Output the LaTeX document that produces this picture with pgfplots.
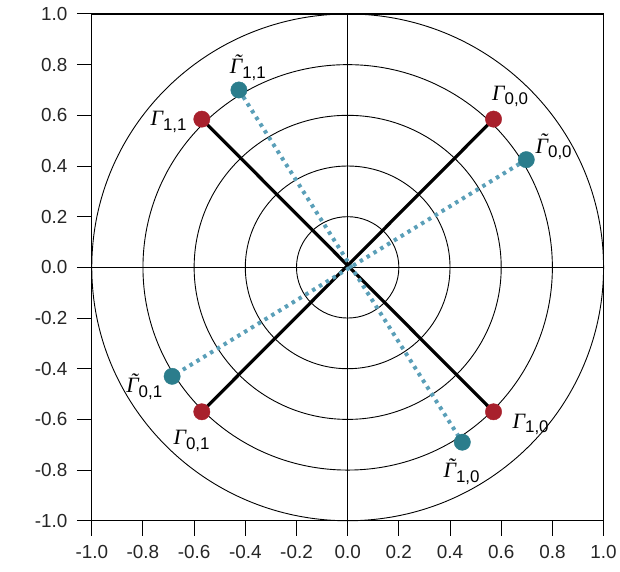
\documentclass[border=0pt]{standalone}
\usepackage{pgfplots}
\pgfplotsset{compat=1.18}
\usepackage{fontspec}
\setmainfont{Liberation Sans}
\newfontfamily\serif{Liberation Serif}
\definecolor{redpt}{HTML}{A8202C}
\definecolor{tealpt}{HTML}{2B7D8C}
\definecolor{dotline}{HTML}{5A9FB8}
\newcommand{\G}[1]{{\serif\itshape Γ}\raisebox{-0.4ex}{\fontsize{17}{17}\selectfont #1}}
\newcommand{\Gt}[1]{{\serif\itshape\ooalign{Γ\cr\hidewidth\kern0.14em\raisebox{0.2em}{˜}\hidewidth\cr}}\raisebox{-0.4ex}{\fontsize{17}{17}\selectfont #1}}
\begin{document}
\begin{tikzpicture}
\begin{axis}[
  scale only axis, width=513bp, height=508bp,
  xmin=-1, xmax=1, ymin=-1, ymax=1,
  clip=false,
  axis line style={black, line width=1.1bp},
  xtick pos=bottom, ytick pos=left,
  tick align=outside,
  major tick length=20bp,
  tick style={black, line width=1bp, dash pattern=on 0bp off 5bp on 15bp off 0bp},
  xticklabel style={yshift=-1bp},
  yticklabel style={xshift=-1bp},
  xtick={-1,-0.8,-0.6,-0.4,-0.2,0,0.2,0.4,0.6,0.8,1},
  ytick={-1,-0.8,-0.6,-0.4,-0.2,0,0.2,0.4,0.6,0.8,1},
  tick label style={font=\fontsize{19}{19}\selectfont, text=black!85},
  /pgf/number format/.cd, fixed, fixed zerofill, precision=1, assume math mode=true,
]
% circles, cross
\draw[black, line width=0.9bp] (axis cs:0,0) circle [radius=0.2];
\draw[black, line width=0.9bp] (axis cs:0,0) circle [radius=0.4];
\draw[black, line width=0.9bp] (axis cs:0,0) circle [radius=0.6];
\draw[black, line width=0.9bp] (axis cs:0,0) circle [radius=0.8];
\draw[black, line width=0.9bp] (axis cs:0,0) circle [radius=1.0];
\draw[black, line width=0.8bp] (axis cs:-1,0) -- (axis cs:1,0);
\draw[black, line width=0.8bp] (axis cs:0,-1) -- (axis cs:0,1);
% lines
\addplot[black, line width=3.2bp] coordinates {(0.57,0.585) (-0.57,-0.57)};
\addplot[black, line width=3.2bp] coordinates {(-0.57,0.585) (0.57,-0.57)};
\addplot[dotline, line width=4bp, dash pattern=on 3.5bp off 4.5bp] coordinates {(0.698,0.425) (-0.686,-0.43)};
\addplot[dotline, line width=4bp, dash pattern=on 3.5bp off 4.5bp] coordinates {(-0.425,0.70) (0.448,-0.69)};
% points
\addplot[only marks, mark=*, mark size=8.2bp, mark options={fill=redpt, draw=redpt}] coordinates {(0.57,0.585) (-0.57,0.585) (-0.57,-0.57) (0.57,-0.57)};
\addplot[only marks, mark=*, mark size=8.2bp, mark options={fill=tealpt, draw=tealpt}] coordinates {(0.698,0.425) (-0.425,0.70) (-0.686,-0.43) (0.448,-0.69)};
% labels
\begin{scope}[every node/.style={font=\fontsize{22}{22}\selectfont, inner sep=0pt}]
\node at (axis cs:0.635,0.675) {\G{0,0}};
\node at (axis cs:0.805,0.465) {\Gt{0,0}};
\node at (axis cs:-0.39,0.78) {\Gt{1,1}};
\node at (axis cs:-0.70,0.575) {\G{1,1}};
\node at (axis cs:-0.795,-0.48) {\Gt{0,1}};
\node at (axis cs:-0.61,-0.685) {\G{0,1}};
\node at (axis cs:0.715,-0.62) {\G{1,0}};
\node at (axis cs:0.445,-0.815) {\Gt{1,0}};
\end{scope}
\end{axis}
\path (current axis.south west) +(-92bp,-51bp) (current axis.north east) +(15bp,14bp);
\end{tikzpicture}
\end{document}
